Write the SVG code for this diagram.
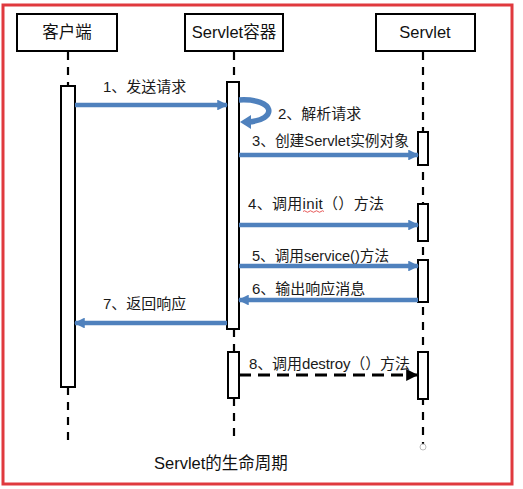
<svg xmlns="http://www.w3.org/2000/svg" width="523" height="489" viewBox="0 0 523 489">
<style>
.hdr{fill:#fff;stroke:#000;stroke-width:2}
.ht{font-family:"Liberation Sans","Noto Sans CJK SC",sans-serif;font-size:16.5px;fill:#111;text-anchor:middle}
.lbl{font-family:"Liberation Sans","Noto Sans CJK SC",sans-serif;font-size:15px;fill:#1a1a1a}
.life{stroke:#000;stroke-width:2.2;stroke-dasharray:8 7;fill:none}
.act{fill:#fff;stroke:#000;stroke-width:2}
.msg{stroke:#4f81bd;stroke-width:4.5;fill:none}
</style>
<defs>
<marker id="ab" viewBox="0 0 10 10" refX="9" refY="5" markerWidth="2.4" markerHeight="2.4" orient="auto" markerUnits="strokeWidth">
<path d="M0,0 L10,5 L0,10 z" fill="#4f81bd"/>
</marker>
<marker id="ak" viewBox="0 0 10 10" refX="9" refY="5" markerWidth="4" markerHeight="4" orient="auto" markerUnits="strokeWidth">
<path d="M0,0 L10,5 L0,10 z" fill="#000"/>
</marker>
</defs>
<rect x="3" y="5" width="509" height="479" fill="#fff" stroke="#e0393e" stroke-width="3"/>

<g id="lifelines">
<line class="life" x1="68" y1="52" x2="68" y2="86"/>
<line class="life" x1="68" y1="387" x2="68" y2="446"/>
<line class="life" x1="234" y1="52" x2="234" y2="82"/>
<line class="life" x1="234" y1="329" x2="234" y2="352"/>
<line class="life" x1="234" y1="398" x2="234" y2="441"/>
<line class="life" x1="423" y1="52" x2="423" y2="444"/>
<circle cx="423" cy="447" r="3" fill="#fff" stroke="#bbb" stroke-width="1"/>
</g>

<g id="client">
<rect class="hdr" x="17" y="14" width="100" height="37"/>
<text class="ht" x="67" y="38">客户端</text>
<rect class="act" x="61" y="86" width="14" height="301"/>
</g>

<g id="container">
<rect class="hdr" x="185" y="14" width="98" height="37"/>
<text class="ht" x="234" y="38">Servlet容器</text>
<rect class="act" x="227" y="82" width="12" height="247"/>
<rect class="act" x="228" y="352" width="11" height="46"/>
</g>

<g id="servlet">
<rect class="hdr" x="376" y="14" width="99" height="37"/>
<text class="ht" x="425" y="38">Servlet</text>
<rect class="act" x="418" y="132" width="10" height="33"/>
<rect class="act" x="418" y="204" width="10" height="37"/>
<rect class="act" x="418" y="260" width="10" height="42"/>
<rect class="act" x="418" y="352" width="10" height="47"/>
</g>

<g id="connectors">
<line class="msg" x1="75" y1="105" x2="227" y2="105" marker-end="url(#ab)"/>
<path d="M239,100 C276,98 278,120 248,122" stroke="#4f81bd" stroke-width="5.5" fill="none"/>
<path d="M240,122 L251,115 L251,129 z" fill="#4f81bd"/>
<line class="msg" x1="239" y1="155" x2="418" y2="155" marker-end="url(#ab)"/>
<line class="msg" x1="239" y1="225" x2="418" y2="225" marker-end="url(#ab)"/>
<line class="msg" x1="239" y1="266" x2="418" y2="266" marker-end="url(#ab)"/>
<line class="msg" x1="418" y1="300" x2="239" y2="300" marker-end="url(#ab)"/>
<line class="msg" x1="227" y1="323" x2="75" y2="323" marker-end="url(#ab)"/>
<line x1="239" y1="375" x2="417" y2="375" stroke="#000" stroke-width="3" stroke-dasharray="12 7" marker-end="url(#ak)"/>
</g>

<g id="labels">
<text class="lbl" x="103" y="92">1、发送请求</text>
<text class="lbl" x="278" y="119">2、解析请求</text>
<text class="lbl" x="252" y="146" textLength="157" lengthAdjust="spacingAndGlyphs">3、创建Servlet实例对象</text>
<text class="lbl" x="248" y="209" textLength="136" lengthAdjust="spacing">4、调用init（）方法</text>
<path d="M303,211.5 q1.5,-1.5 3,0 t3,0 t3,0 t3,0 t3,0 t3,0 t3,0" stroke="#e03030" stroke-width="0.8" fill="none"/>
<text class="lbl" x="252" y="261" textLength="137" lengthAdjust="spacingAndGlyphs">5、调用service()方法</text>
<text class="lbl" x="252" y="294">6、输出响应消息</text>
<text class="lbl" x="103" y="309">7、返回响应</text>
<text class="lbl" x="249" y="369" textLength="161" lengthAdjust="spacing">8、调用destroy（）方法</text>
<text x="154" y="469" font-family="'Liberation Sans','Noto Sans CJK SC',sans-serif" font-size="16.5" fill="#111">Servlet的生命周期</text>
</g>
</svg>
